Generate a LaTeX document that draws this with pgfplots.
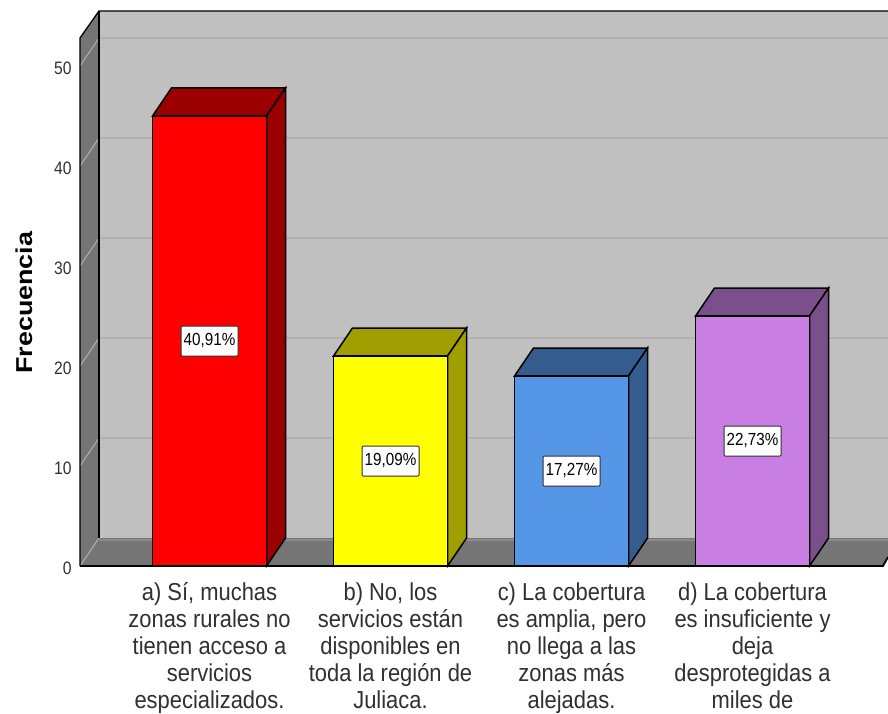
\documentclass[border=0pt]{standalone}
\usepackage{fontspec}
\usepackage{pgfplots}
\pgfplotsset{compat=1.18}
\setmainfont{Liberation Sans}
\newfontfamily\lab[FakeStretch=0.87]{Liberation Sans}
\newfontfamily\cat[FakeStretch=0.895]{Liberation Sans}
\newfontfamily\ylab[FakeStretch=1.17]{Liberation Sans}
\definecolor{wall}{HTML}{C0C0C0}
\definecolor{floorc}{HTML}{757575}
\definecolor{gridc}{HTML}{B1B1B1}
\definecolor{txt}{HTML}{303030}
\definecolor{redtop}{HTML}{9B0000}
\definecolor{yel}{HTML}{FFFF00}
\definecolor{yeltop}{HTML}{A09E00}
\definecolor{blu}{HTML}{5596E6}
\definecolor{blutop}{HTML}{355C8F}
\definecolor{pur}{HTML}{C97EE4}
\definecolor{purtop}{HTML}{7B4E8C}
\begin{document}
\begin{tikzpicture}[x=1pt,y=1pt]
\useasboundingbox (0,0) rectangle (888,713);
\clip (0,0) rectangle (888,713);
\begin{axis}[
    at={(80pt,147pt)},
    anchor=south west,
    scale only axis,
    width=808pt,
    height=555pt,
    xmin=-0.7155, xmax=3.7486,
    ymin=0, ymax=55.5,
    clip=false,
    axis line style={draw=none},
    major tick length=0pt,
    xtick={0,1,2,3},
    xticklabels={
        {a) Sí, muchas\\zonas rurales no\\tienen acceso a\\servicios\\especializados.},
        {b) No, los\\servicios están\\disponibles en\\toda la región de\\Juliaca.},
        {c) La cobertura\\es amplia, pero\\no llega a las\\zonas más\\alejadas.},
        {d) La cobertura\\es insuficiente y\\deja\\desprotegidas a\\miles de}},
    xticklabel style={font=\cat\fontsize{24.5}{27}\selectfont, text=txt, align=center, anchor=north, yshift=-13pt},
    ytick={0,10,20,30,40,50},
    yticklabel style={font=\lab\fontsize{18}{20}\selectfont, text=txt, anchor=east, xshift=-5pt, yshift=-2pt},
    /pgf/number format/assume math mode=true,
    ylabel={\ylab\fontsize{23}{25}\selectfont\bfseries Frecuencia},
    every axis y label/.style={at={(axis description cs:-0.0693,0.4745)},rotate=90,anchor=center,text=black},
    unbounded coords=jump,
]
% back wall, side wall, floor
\addplot[fill=wall,draw=none] coordinates {(-0.6105,2.8) (3.7486,2.8) (3.7486,55.5) (-0.6105,55.5)} -- cycle;
\addplot[fill=floorc,draw=none] coordinates {(-0.7155,0) (-0.6105,2.8) (-0.6105,55.5) (-0.7155,52.8)} -- cycle;
\addplot[fill=floorc,draw=none] coordinates {(-0.7155,0) (-0.6105,2.8) (3.7486,2.8) (3.7486,0.9) (3.721,0)} -- cycle;
% grid on the wall
\addplot[gridc,line width=1.5pt] coordinates {
    (-0.6105,12.8) (3.7486,12.8) (3.7486,nan)
    (-0.6105,22.8) (3.7486,22.8) (3.7486,nan)
    (-0.6105,32.8) (3.7486,32.8) (3.7486,nan)
    (-0.6105,42.8) (3.7486,42.8) (3.7486,nan)
    (-0.6105,52.8) (3.7486,52.8)};
\addplot[gridc,line width=1pt] coordinates {
    (-0.7155,0) (-0.6105,2.8) (-0.6105,nan)
    (-0.7155,10) (-0.6105,12.8) (-0.6105,nan)
    (-0.7155,20) (-0.6105,22.8) (-0.6105,nan)
    (-0.7155,30) (-0.6105,32.8) (-0.6105,nan)
    (-0.7155,40) (-0.6105,42.8) (-0.6105,nan)
    (-0.7155,50) (-0.6105,52.8)};
% strip where the floor meets the wall
\addplot[color=floorc!70!wall,line width=2pt] coordinates {(-0.6105,2.6) (3.7486,2.6)};
% frame
\addplot[black,line width=1.3pt] coordinates {(-0.7155,0) (-0.7155,52.8) (-0.6105,55.5) (3.7486,55.5)};
\addplot[black,line width=1.3pt] coordinates {(-0.6105,55.5) (-0.6105,2.8)};
\addplot[black,line width=1.8pt] coordinates {(-0.7155,0) (3.721,0) (3.7486,0.9)};
% a) 45
\addplot[fill=redtop,draw=black,line width=1.5pt] coordinates {(-0.315,45) (-0.21,47.8) (0.42,47.8) (0.315,45)} -- cycle;
\addplot[fill=redtop,draw=black,line width=1.5pt] coordinates {(0.315,0) (0.42,2.8) (0.42,47.8) (0.315,45)} -- cycle;
\addplot[ybar,bar width=0.63,bar shift=0pt,fill=red,draw=black,line width=1.5pt] coordinates {(0,45)};
% b) 21
\addplot[fill=yeltop,draw=black,line width=1.5pt] coordinates {(0.685,21) (0.79,23.8) (1.42,23.8) (1.315,21)} -- cycle;
\addplot[fill=yeltop,draw=black,line width=1.5pt] coordinates {(1.315,0) (1.42,2.8) (1.42,23.8) (1.315,21)} -- cycle;
\addplot[ybar,bar width=0.63,bar shift=0pt,fill=yel,draw=black,line width=1.5pt] coordinates {(1,21)};
% c) 19
\addplot[fill=blutop,draw=black,line width=1.5pt] coordinates {(1.685,19) (1.79,21.8) (2.42,21.8) (2.315,19)} -- cycle;
\addplot[fill=blutop,draw=black,line width=1.5pt] coordinates {(2.315,0) (2.42,2.8) (2.42,21.8) (2.315,19)} -- cycle;
\addplot[ybar,bar width=0.63,bar shift=0pt,fill=blu,draw=black,line width=1.5pt] coordinates {(2,19)};
% d) 25
\addplot[fill=purtop,draw=black,line width=1.5pt] coordinates {(2.685,25) (2.79,27.8) (3.42,27.8) (3.315,25)} -- cycle;
\addplot[fill=purtop,draw=black,line width=1.5pt] coordinates {(3.315,0) (3.42,2.8) (3.42,27.8) (3.315,25)} -- cycle;
\addplot[ybar,bar width=0.63,bar shift=0pt,fill=pur,draw=black,line width=1.5pt] coordinates {(3,25)};
% percentage boxes at half the bar height
\addplot[draw=none,mark=none,point meta=explicit symbolic,nodes near coords,
    every node near coord/.append style={anchor=center,fill=white,draw=txt,line width=1pt,
      rounded corners=1pt,minimum width=57pt,minimum height=30pt,inner sep=0pt,text=black,
      font=\lab\fontsize{17.5}{20}\selectfont}]
    coordinates {(0,22.5)[40,91\%] (1,10.5)[19,09\%] (2,9.5)[17,27\%] (3,12.5)[22,73\%]};
\end{axis}
\end{tikzpicture}
\end{document}
